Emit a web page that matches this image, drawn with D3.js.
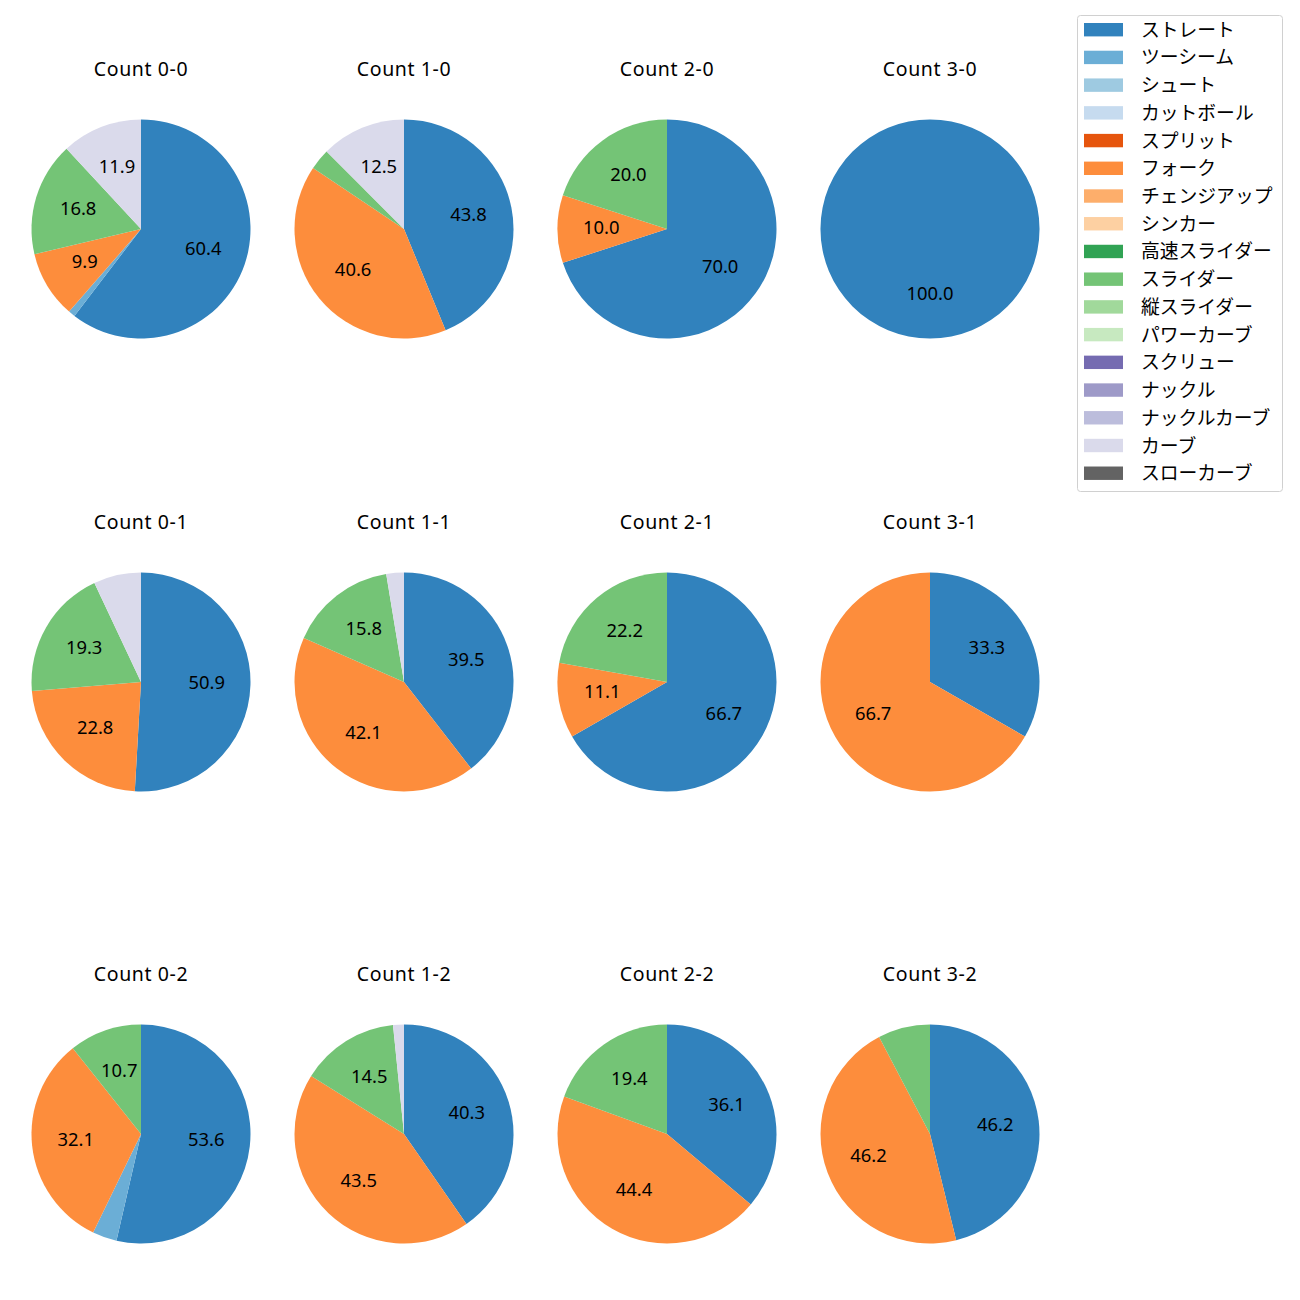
<!DOCTYPE html>
<html><head><meta charset="utf-8">
<script src="https://cdn.jsdelivr.net/npm/d3@7"></script>
<style>
html,body{margin:0;padding:0;background:#fff;}
text{font-family:"Noto Sans","Noto Sans CJK JP",sans-serif;fill:#000;}
text.jp{font-family:"Noto Sans CJK JP","Noto Sans",sans-serif;}
</style></head>
<body><svg id="chart" width="1300" height="1300"></svg>
<script>
const categories = ["ストレート","ツーシーム","シュート","カットボール","スプリット","フォーク","チェンジアップ","シンカー","高速スライダー","スライダー","縦スライダー","パワーカーブ","スクリュー","ナックル","ナックルカーブ","カーブ","スローカーブ"];
const colors = ["#3182bd","#6baed6","#9ecae1","#c6dbef","#e6550d","#fd8d3c","#fdae6b","#fdd0a2","#31a354","#74c476","#a1d99b","#c7e9c0","#756bb1","#9e9ac8","#bcbddc","#dadaeb","#636363"];
const panelTitles = ["Count 0-0","Count 1-0","Count 2-0","Count 3-0","Count 0-1","Count 1-1","Count 2-1","Count 3-1","Count 0-2","Count 1-2","Count 2-2","Count 3-2"];
// percent values per panel (same order as panelTitles)
const straight = [60.4, 43.8, 70.0, 100.0, 50.9, 39.5, 66.7, 33.3, 53.6, 40.3, 36.1, 46.2];
const twoSeam  = [1.0, 0, 0, 0, 0, 0, 0, 0, 3.6, 0, 0, 0];
const fork     = [9.9, 40.6, 10.0, 0, 22.8, 42.1, 11.1, 66.7, 32.1, 43.5, 44.4, 46.2];
const slider   = [16.8, 3.1, 20.0, 0, 19.3, 15.8, 22.2, 0, 10.7, 14.5, 19.4, 7.7];
const curve    = [11.9, 12.5, 0, 0, 7.0, 2.6, 0, 0, 0, 1.6, 0, 0];

const seriesByCat = {"ストレート": straight, "ツーシーム": twoSeam, "フォーク": fork, "スライダー": slider, "カーブ": curve};

const svg = d3.select("#chart");
const color = d3.scaleOrdinal().domain(categories).range(colors);
const colX = [141, 404, 667, 930];
const rowY = [229, 682, 1134];
const R = 109.5;
const pie = d3.pie().sort(null).value(d => d.v).startAngle(0).endAngle(2*Math.PI);
const arc = d3.arc().innerRadius(0).outerRadius(R);
const labelArc = d3.arc().innerRadius(R*0.6).outerRadius(R*0.6);

panelTitles.forEach((t, i) => {
  const cx = colX[i % 4], cy = rowY[Math.floor(i / 4)];
  const data = categories.map(c => ({c, v: seriesByCat[c] ? seriesByCat[c][i] : 0})).filter(d => d.v > 0);
  const g = svg.append("g").attr("transform", `translate(${cx},${cy})`);
  const arcs = pie(data);
  g.selectAll("path").data(arcs).join("path")
    .attr("d", arc).attr("fill", d => color(d.data.c));
  g.selectAll("text.lbl").data(arcs.filter(d => d.data.v >= 8)).join("text")
    .attr("class","lbl")
    .attr("transform", d => `translate(${labelArc.centroid(d)})`)
    .attr("text-anchor","middle").attr("dy","0.27em")
    .attr("font-size","18.4px")
    .text(d => d.data.v.toFixed(1));
  svg.append("text").attr("x", cx).attr("y", cy - 153)
    .attr("text-anchor","middle").attr("font-size","19.5px")
    .attr("letter-spacing","0.6px").text(t);
});

// legend
const lg = svg.append("g");
lg.append("rect").attr("x",1077.5).attr("y",15.5).attr("width",205).attr("height",476)
  .attr("rx",3).attr("fill","#fff").attr("stroke","#d0d0d0").attr("stroke-width",1);
const step = 27.72;
categories.forEach((c, k) => {
  const y = 29.7 + k*step;
  lg.append("rect").attr("x",1084).attr("y",y-6.7).attr("width",39).attr("height",13.4).attr("fill",color(c));
  lg.append("text").attr("class","jp").attr("x",1141).attr("y",y - 1.5).attr("dominant-baseline","central")
    .attr("font-size","18.8px").text(c);
});
</script></body></html>
